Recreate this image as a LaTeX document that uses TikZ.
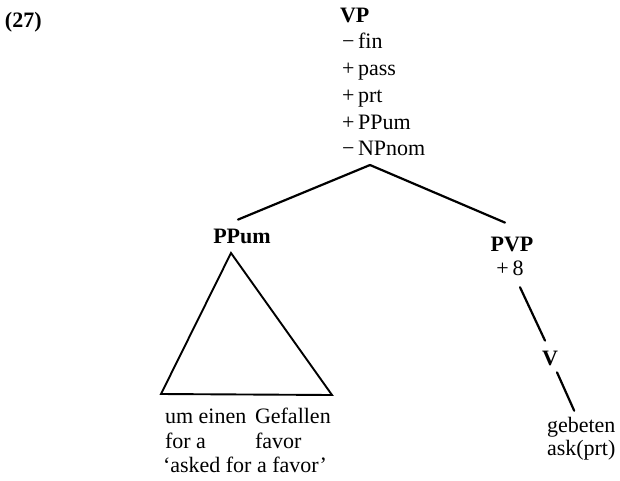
\documentclass[tikz,border=0pt]{standalone}
\usepackage{fontspec}
\setmainfont{Liberation Serif}
\begin{document}
\begin{tikzpicture}[x=1pt,y=-1pt,
  every node/.style={inner sep=0pt, outer sep=0pt, font=\fontsize{22}{26}\selectfont},
  cat/.style={font=\fontsize{22}{26}\selectfont\bfseries},
  feature/.style={anchor=base west},
  branch/.style={line width=2.2pt, line cap=round},
  tri/.style={line width=1.9pt, line join=miter}]
\useasboundingbox (0,0) rectangle (620,480);

% example number
\node[cat, anchor=base west] (ex) at (5,27) {(27)};

% mother node with its feature list
\node[cat, anchor=base west] (vp) at (340,22) {VP};
\node[feature] (f1) at (342,48)  {−\,fin};
\node[feature] (f2) at (342,75)  {+\,pass};
\node[feature] (f3) at (342,102) {+\,prt};
\node[feature] (f4) at (342,129) {+\,PPum};
\node[feature] (f5) at (342,155) {−\,NPnom};
\coordinate (apex) at (370,165);

% daughters
\node[cat, anchor=base] (ppum) at (242,243) {PPum};
\node[cat, anchor=base] (pvp) at (512,251) {PVP};
\node[anchor=base] (plus8) at (510,275) {+\,8};
\node[cat, anchor=base] (v) at (550,365) {V};
\node[anchor=base west] (geb) at (547,432) {gebeten};
\node[anchor=base west] (ask) at (547,455) {ask(prt)};

% branches
\draw[branch] (apex) -- ([shift={(-4pt,9pt)}]ppum.north);
\draw[branch] (apex) -- ([shift={(-7pt,14pt)}]pvp.north);
\draw[branch] ([shift={(10pt,-12pt)}]plus8.south) -- ([shift={(-5pt,10pt)}]v.north);
\draw[branch] ([shift={(7pt,-7pt)}]v.south) -- ([shift={(-7pt,6pt)}]geb.north);

% triangle under PPum
\coordinate (tA) at (231,253);
\coordinate (tL) at (161,394);
\coordinate (tR) at (332,395);
\draw[tri] (tA) -- (tL) -- (tR) -- cycle;

% gloss lines
\node[anchor=base west] (g1) at (165,423) {\makebox[90pt][l]{um einen}Gefallen};
\node[anchor=base west] (g2) at (165,448) {\makebox[90pt][l]{for a}favor};
\node[anchor=base west] (g3) at (163,472) {‘asked for a favor’};
\end{tikzpicture}
\end{document}
